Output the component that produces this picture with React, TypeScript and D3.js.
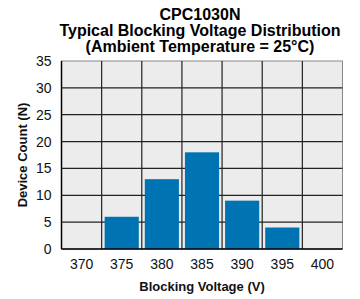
import React from "react";
import * as d3 from "d3";

const categories = ["370", "375", "380", "385", "390", "395", "400"];
const counts = [0, 6, 13, 18, 9, 4, 0];
const yTicks = [0, 5, 10, 15, 20, 25, 30, 35];
const titleLines = [
  "CPC1030N",
  "Typical Blocking Voltage Distribution",
  "(Ambient Temperature = 25\u00B0C)",
];

export default function App() {
  const W = 360, H = 299;
  const left = 61.5, right = 342.5, top = 61, bottom = 249;
  const x = d3.scaleBand<string>().domain(categories).range([left, right]).padding(0);
  const y = d3.scaleLinear().domain([0, 35]).range([bottom, top]);
  const font = "'Liberation Sans', Arial, sans-serif";
  const inset = 3;
  return (
    <svg width={W} height={H} style={{ position: "absolute", left: 0, top: 0 }} fontFamily={font}>
      <rect x={0} y={0} width={W} height={H} fill="#fff" />
      {titleLines.map((t, i) => (
        <text key={i} x={200} y={19.5 + i * 16.3} textAnchor="middle" fontWeight="bold" fontSize={16} fill="#000">
          {t}
        </text>
      ))}
      <rect x={left} y={top} width={right - left} height={bottom - top} fill="#ececec" stroke="#888" strokeWidth={1} />
      {yTicks.slice(1, -1).map((v) => (
        <line key={v} x1={left} x2={right} y1={y(v)} y2={y(v)} stroke="#222" strokeWidth={1.2} />
      ))}
      {categories.slice(1).map((c) => (
        <line key={c} x1={x(c)!} x2={x(c)!} y1={top} y2={bottom} stroke="#222" strokeWidth={1.2} />
      ))}
      {categories.map((c, i) =>
        counts[i] > 0 ? (
          <rect
            key={c}
            x={x(c)! + inset}
            y={y(counts[i])}
            width={x.bandwidth() - 2 * inset}
            height={bottom - y(counts[i])}
            fill="#0074b3"
          />
        ) : null
      )}
      <line x1={left} x2={left} y1={top} y2={bottom} stroke="#000" strokeWidth={1.5} />
      <line x1={left} x2={right} y1={bottom} y2={bottom} stroke="#000" strokeWidth={1.5} />
      {yTicks.map((v) => (
        <text key={v} x={left - 10} y={y(v) + 5} textAnchor="end" fontSize={14} fill="#111">
          {v}
        </text>
      ))}
      {categories.map((c) => (
        <text key={c} x={x(c)! + x.bandwidth() / 2} y={269} textAnchor="middle" fontSize={14} fill="#111">
          {c}
        </text>
      ))}
      <text x={202} y={291} textAnchor="middle" fontWeight="bold" fontSize={13} fill="#111">
        Blocking Voltage (V)
      </text>
      <text
        transform={`translate(27,${(top + bottom) / 2}) rotate(-90)`}
        textAnchor="middle"
        fontWeight="bold"
        fontSize={13}
        fill="#111"
      >
        Device Count (N)
      </text>
    </svg>
  );
}
